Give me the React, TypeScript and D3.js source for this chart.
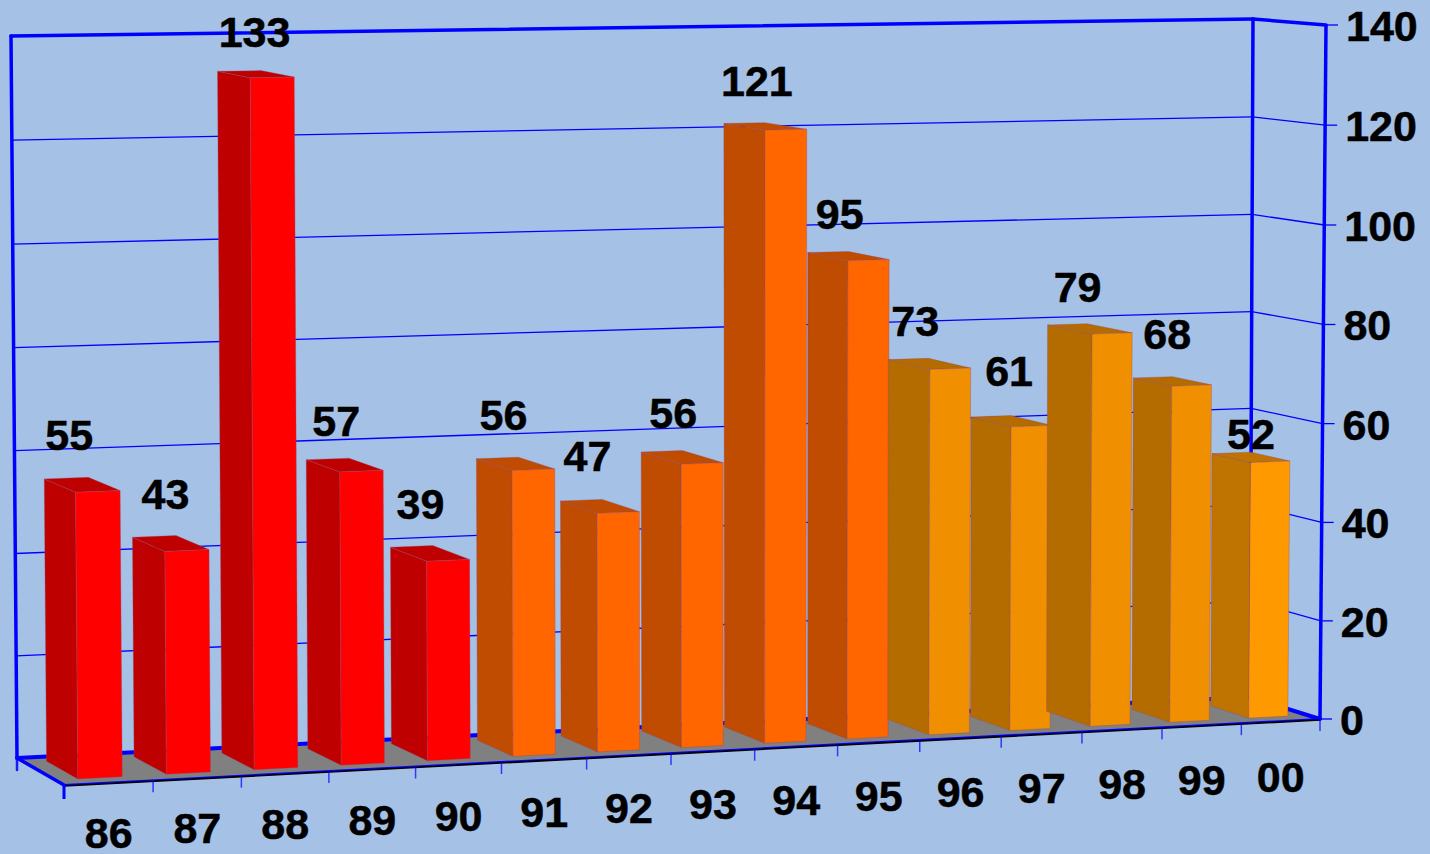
import React from "react";
import * as d3 from "d3";

// Chart values
const years = ["86", "87", "88", "89", "90", "91", "92", "93", "94", "95", "96", "97", "98", "99", "00"];
const counts = [55, 43, 133, 57, 39, 56, 47, 56, 121, 95, 73, 61, 79, 68, 52];
const valueTicks = [0, 20, 40, 60, 80, 100, 120, 140];

// Face colours per bar
const barFront = ["#FF0000", "#FF0000", "#FF0000", "#FF0000", "#FF0000", "#FF6600", "#FF6600", "#FF6600", "#FF6600", "#FF6600", "#F09000", "#F09000", "#F09000", "#F09000", "#FF9900"];
const barSide = ["#BF0000", "#BF0000", "#BF0000", "#BF0000", "#BF0000", "#BF4C00", "#BF4C00", "#BF4C00", "#BF4C00", "#BF4C00", "#B46C00", "#B46C00", "#B46C00", "#B46C00", "#BF7300"];

// Depth of each bar's rear edge, and value-label offsets from its back-left top corner
const rearDepth = [0.84, 0.84, 0.82, 0.82, 0.85, 0.82, 0.82, 0.86, 0.85, 0.82, 0.83, 0.79, 0.84, 0.74, 0.73];
const labelNudge: [number, number][] = [[25, -44], [33, -43], [37, -39], [30, -39], [30, -43], [27, -44], [27, -45], [32, -39], [33, -42], [32, -39], [27, -39], [38, -46], [30, -38], [34, -44], [39, -20]];

type Pt = [number, number];

// Corners of the plot box in screen space
const floorFL: Pt = [64, 785];
const floorFR: Pt = [1320, 719];
const floorBL: Pt = [17, 758];
const floorBR: Pt = [1250, 697];
const topFL: Pt = [58, 46];
const topFR: Pt = [1326, 25];
const topBL: Pt = [11, 36];
const topBR: Pt = [1253, 19];

const PERSPECTIVE = 0.069;
const HEIGHT_PERSPECTIVE = 0.012;
const BAR_LO = 0.25;
const BAR_HI = 0.75;
const DEPTH_FRONT = 0.18;

const catScale = d3.scaleLinear().domain([0, years.length]).range([0, 1]);
const valScale = d3.scaleLinear().domain([0, 140]).range([0, 1]);

const mix = (a: Pt, b: Pt, t: number): Pt => [a[0] + (b[0] - a[0]) * t, a[1] + (b[1] - a[1]) * t];

// Foreshortening along the category axis and up the value axis
const warp = (c: number) => {
  const t = catScale(c);
  return (t * (1 + PERSPECTIVE)) / (1 + PERSPECTIVE * t);
};
const lift = (v: number) => {
  const t = valScale(v);
  return (t * (1 - HEIGHT_PERSPECTIVE)) / (1 - HEIGHT_PERSPECTIVE * t);
};

// Maps category position, depth (0 front, 1 back) and value to the screen
const project = (c: number, depth: number, value: number): Pt => {
  const f = warp(c);
  const low = mix(mix(floorFL, floorFR, f), mix(floorBL, floorBR, f), depth);
  const high = mix(mix(topFL, topFR, f), mix(topBL, topBR, f), depth);
  return mix(low, high, lift(value));
};

const poly = d3.line<Pt>().x((d) => d[0]).y((d) => d[1]).curve(d3.curveLinearClosed);
const seg = (a: Pt, b: Pt) => d3.line<Pt>()([a, b]) as string;

const BLUE = "#0000FF";
const FONT = "'Liberation Sans', Arial, sans-serif";
const EDGE = "rgba(150,70,110,0.45)";
const labelStyle = {
  fontFamily: FONT,
  fontWeight: 700,
  fontSize: 43,
  fill: "#000",
  stroke: "#000",
  strokeWidth: 0.5,
};

export default function App() {
  return (
    <svg width={1430} height={854} style={{ position: "absolute", left: 0, top: 0, background: "#A6C1E6" }}>
      {/* floor */}
      <path d={poly([floorFL, floorFR, floorBR, floorBL]) as string} fill="#808080" />

      {/* gridlines on the back and side walls */}
      {valueTicks.filter((v) => v > 0 && v < 140).map((v) => (
        <g key={v} stroke={BLUE} strokeWidth={1.3} fill="none">
          <path d={seg(project(0, 1, v), project(years.length, 1, v))} />
          <path d={seg(project(years.length, 1, v), project(years.length, 0, v))} />
        </g>
      ))}

      {/* wall frame */}
      <g stroke={BLUE} fill="none" strokeLinecap="round">
        <path d={seg(floorBL, topBL)} strokeWidth={3.5} />
        <path d={seg(topBL, topBR)} strokeWidth={3.5} />
        <path d={seg(topBR, floorBR)} strokeWidth={3.5} />
        <path d={seg(topBR, topFR)} strokeWidth={3.5} />
        <path d={seg(floorBL, floorBR)} strokeWidth={4} />
        <path d={seg(floorBR, floorFR)} strokeWidth={4} />
        <path d={seg(floorBL, floorFL)} strokeWidth={3.5} />
        <path d={seg(floorBL, [floorBL[0], floorBL[1] + 12])} strokeWidth={2.5} opacity={0.85} />
      </g>

      {/* bars */}
      {counts.map((v, i) => {
        const a = i + BAR_LO;
        const b = i + BAR_HI;
        const rear = rearDepth[i];
        const side = [project(a, rear, 0), project(a, DEPTH_FRONT, 0), project(a, DEPTH_FRONT, v), project(a, rear, v)] as Pt[];
        const front = [project(a, DEPTH_FRONT, 0), project(b, DEPTH_FRONT, 0), project(b, DEPTH_FRONT, v), project(a, DEPTH_FRONT, v)] as Pt[];
        const cap = [project(a, DEPTH_FRONT, v), project(b, DEPTH_FRONT, v), project(b, rear, v), project(a, rear, v)] as Pt[];
        return (
          <g key={years[i]} stroke={EDGE} strokeWidth={0.8}>
            <path d={poly(side) as string} fill={barSide[i]} />
            <path d={poly(cap) as string} fill={barSide[i]} />
            <path d={poly(front) as string} fill={barFront[i]} />
          </g>
        );
      })}

      {/* front edge of the floor with its category ticks */}
      <path d={seg(floorFL, floorFR)} stroke={BLUE} strokeWidth={2} />
      <path d={seg([floorFL[0], floorFL[1] + 1], [floorFR[0], floorFR[1] + 1])} stroke="#000" strokeWidth={1.6} />
      {d3.range(years.length + 1).map((i) => {
        const p = project(i, 0, 0);
        return (
          <path
            key={i}
            d={seg(p, [p[0], p[1] + (i === 0 ? 14 : 12)])}
            stroke={BLUE}
            strokeWidth={i === 0 ? 3 : 1.5}
            opacity={i === 0 ? 1 : 0.7}
          />
        );
      })}

      {/* value axis */}
      <path d={seg(topFR, floorFR)} stroke={BLUE} strokeWidth={3.5} />
      {valueTicks.map((v) => {
        const p = project(years.length, 0, v);
        return (
          <g key={v}>
            <path d={seg(p, [p[0] + 12, p[1]])} stroke={BLUE} strokeWidth={1.3} />
            <text x={p[0] + 20} y={p[1] + 16} style={labelStyle}>
              {v}
            </text>
          </g>
        );
      })}

      {/* category labels */}
      {years.map((y, i) => {
        const p = project(i + 0.5, 0, 0);
        return (
          <text key={y} x={p[0]} y={p[1] + 65 + 0.4 * i} textAnchor="middle" style={labelStyle}>
            {y}
          </text>
        );
      })}

      {/* value labels */}
      {counts.map((v, i) => {
        const p = project(i + BAR_LO, rearDepth[i], v);
        return (
          <text key={years[i]} x={p[0] + labelNudge[i][0]} y={p[1] + labelNudge[i][1] + 15} textAnchor="middle" style={labelStyle}>
            {v}
          </text>
        );
      })}
    </svg>
  );
}
